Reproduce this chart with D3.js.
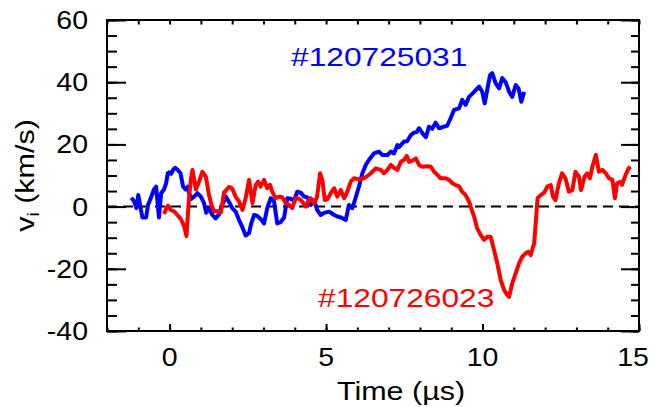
<!DOCTYPE html>
<html>
<head>
<meta charset="utf-8">
<script src="https://cdn.jsdelivr.net/npm/d3@7"></script>
<style>
  html, body { margin: 0; padding: 0; background: #fff; }
  svg { display: block; font-family: "Liberation Sans", Arial, sans-serif; }
</style>
</head>
<body>
<svg id="chart"></svg>
<script>
// shot #120725031 (blue)
const blueT = [-1.22,-1.13,-1.06,-1.0,-0.87,-0.75,-0.69,-0.59,-0.5,-0.43,-0.34,-0.27,-0.18,-0.11,-0.06,-0.02,0.05,0.11,0.18,0.26,0.35,0.43,0.51,0.58,0.62,0.69,0.78,0.89,1.0,1.1,1.17,1.26,1.37,1.47,1.58,1.64,1.8,1.9,2.0,2.11,2.22,2.32,2.43,2.54,2.61,2.7,2.8,2.91,3.02,3.12,3.23,3.34,3.44,3.55,3.66,3.76,3.87,3.98,4.08,4.19,4.3,4.4,4.51,4.62,4.72,4.83,4.94,5.1,5.26,5.36,5.48,5.63,5.73,5.84,5.95,6.05,6.16,6.27,6.37,6.53,6.69,6.8,6.96,7.07,7.17,7.28,7.33,7.49,7.59,7.71,7.81,7.9,7.97,8.08,8.19,8.29,8.39,8.5,8.61,8.77,8.87,8.98,9.09,9.25,9.35,9.46,9.57,9.73,9.89,9.99,10.07,10.15,10.24,10.31,10.42,10.53,10.63,10.74,10.85,10.95,11.06,11.15,11.24,11.33];
const blueV = [2.9,1.6,-0.5,3.7,-3.5,-3.5,0.5,3.0,5.5,6.4,-3.5,4.3,5.5,7.5,10.7,11.0,10.5,11.8,12.5,11.8,10.7,6.5,5.5,6.4,4.5,2.5,3.2,4.3,3.2,1.1,-2.0,-0.5,-2.7,-3.8,-2.5,-0.5,3.2,1.5,-0.5,-1.6,-4.3,-6.5,-9.3,-8.5,-5.4,-2.7,-3.0,-4.0,-5.4,-0.5,2.7,1.5,-5.4,-5.0,-3.5,2.7,2.5,2.0,4.8,4.5,3.2,3.0,0.5,2.0,-1.1,-2.7,-2.0,-1.6,-2.7,-3.2,-3.5,-4.3,0.5,-0.5,3.0,6.4,10.7,13.4,15.0,17.1,17.7,16.6,16.6,17.7,17.1,19.8,19.1,20.9,21.0,23.0,23.8,24.0,25.2,23.6,22.3,25.7,25.0,27.0,25.2,25.7,26.0,28.4,31.1,31.6,34.3,32.7,35.3,36.9,38.6,36.9,33.2,37.5,42.3,42.9,39.6,38.0,41.3,40.0,36.9,35.3,39.1,38.0,33.7,36.9];

// shot #120726023 (red)
const redT = [-0.18,-0.1,-0.05,0.04,0.14,0.25,0.36,0.46,0.54,0.62,0.68,0.73,0.78,0.84,0.94,1.05,1.16,1.26,1.34,1.42,1.53,1.64,1.74,1.9,2.0,2.11,2.22,2.33,2.43,2.54,2.65,2.75,2.83,2.91,3.02,3.12,3.21,3.28,3.39,3.5,3.6,3.71,3.82,3.92,4.03,4.14,4.24,4.35,4.42,4.51,4.62,4.71,4.81,4.88,4.96,5.05,5.15,5.26,5.36,5.47,5.58,5.68,5.79,5.89,6.05,6.21,6.37,6.48,6.59,6.75,6.85,6.96,7.07,7.17,7.28,7.39,7.49,7.58,7.65,7.76,7.87,7.97,8.08,8.24,8.35,8.45,8.56,8.66,8.82,8.93,9.04,9.14,9.25,9.35,9.46,9.57,9.62,9.73,9.83,9.94,10.05,10.15,10.26,10.37,10.47,10.58,10.69,10.79,10.85,10.95,11.06,11.17,11.27,11.38,11.46,11.54,11.65,11.76,11.86,11.97,12.07,12.18,12.25,12.33,12.44,12.54,12.65,12.76,12.87,12.97,13.08,13.15,13.26,13.34,13.43,13.51,13.62,13.72,13.83,13.94,14.04,14.15,14.23,14.3,14.41,14.46,14.57,14.67,14.73];
const redV = [-2.4,-0.5,0.3,-1.1,-1.5,-2.7,-4.0,-6.2,-9.5,2.7,8.6,11.8,9.0,5.5,8.0,11.2,9.6,3.7,0.5,-1.5,-1.5,-1.8,4.5,6.4,5.8,3.2,1.6,-1.1,2.7,8.6,1.1,6.9,8.0,6.4,8.6,5.9,7.0,4.8,2.7,3.2,3.0,1.1,0.5,-0.5,2.7,2.5,1.6,0,1.5,2.7,1.1,3.0,10.7,8.6,2.1,2.5,4.3,5.9,3.2,5.3,2.7,4.8,8.0,9.1,8.8,9.1,10.2,11.2,12.3,11.8,10.7,11.8,13.4,12.5,11.8,14.4,15.0,16.3,14.4,14.8,15.5,13.4,12.8,13.0,12.8,11.2,10.2,9.1,9.1,8.6,7.5,6.9,6.5,4.8,3.7,1.6,0,-3.2,-7.0,-9.1,-10.7,-9.7,-9.7,-14.0,-18.2,-23.6,-26.8,-28.4,-29.0,-24.7,-21.4,-18.2,-16.1,-15.0,-14.5,-15.6,-11.8,2.7,3.7,4.5,6.4,6.9,3.2,2.1,7.5,10.7,9.1,4.8,5.3,11.2,9.6,5.3,9.6,10.7,9.1,12.8,16.6,11.2,11.8,10.7,9.1,8.6,2.7,7.5,8.0,7.0,10.2,12.3,12.8];

const xTicks = [0, 5, 10, 15];
const yTicks = [-40, -20, 0, 20, 40, 60];
const shotLabels = ["#120725031", "#120726023"];

const width = 651, height = 407;
const margin = { top: 20, right: 12, bottom: 76, left: 107 };

const svg = d3.select('#chart').attr('width', width).attr('height', height);
svg.selectAll("*").remove();

const x = d3.scaleLinear().domain([-2, 15]).range([margin.left, width - margin.right]);
const y = d3.scaleLinear().domain([-40, 60]).range([height - margin.bottom, margin.top]);

const pairs = (ts, vs) => d3.range(Math.min(ts.length, vs.length)).map(i => [ts[i], vs[i]]);
const line = d3.line().x(d => x(d[0])).y(d => y(d[1]));

// zero line
svg.append('line')
    .attr('x1', x(-2)).attr('x2', x(15))
    .attr('y1', y(0)).attr('y2', y(0))
    .attr('stroke', '#000').attr('stroke-width', 2)
    .attr('stroke-dasharray', '10,6');

svg.append('path')
    .datum(pairs(blueT, blueV))
    .attr('d', line)
    .attr('fill', 'none').attr('stroke', '#0000ff')
    .attr('stroke-width', 4).attr('stroke-linejoin', 'round');

svg.append('path')
    .datum(pairs(redT, redV))
    .attr('d', line)
    .attr('fill', 'none').attr('stroke', '#ff0000')
    .attr('stroke-width', 4).attr('stroke-linejoin', 'round');

// ticks, all pointing inward
const tickAxis = (axis, transform) => {
    const g = svg.append('g').attr('transform', transform).call(axis);
    g.select('.domain').remove();
    g.selectAll('line').attr('stroke', '#000').attr('stroke-width', 2);
    g.selectAll('text').remove();
};
const minorX = d3.range(-2, 16, 1);
const minorY = d3.range(-40, 61, 5);

tickAxis(d3.axisBottom(x).tickValues(minorX).tickSize(-3.5), `translate(0,${y(-40)})`);
tickAxis(d3.axisBottom(x).tickValues(xTicks).tickSize(-7), `translate(0,${y(-40)})`);
tickAxis(d3.axisTop(x).tickValues(minorX).tickSize(-4.5), `translate(0,${y(60)})`);
tickAxis(d3.axisLeft(y).tickValues(minorY).tickSize(-10), `translate(${x(-2)},0)`);
tickAxis(d3.axisLeft(y).tickValues(yTicks).tickSize(-19), `translate(${x(-2)},0)`);
tickAxis(d3.axisRight(y).tickValues(minorY).tickSize(-8), `translate(${x(15)},0)`);
tickAxis(d3.axisRight(y).tickValues(yTicks).tickSize(-18), `translate(${x(15)},0)`);

// frame
svg.append('rect')
    .attr('x', x(-2)).attr('y', y(60))
    .attr('width', x(15) - x(-2)).attr('height', y(-40) - y(60))
    .attr('fill', 'none').attr('stroke', '#000').attr('stroke-width', 2);

// tick labels (slightly wide type, as in the original)
const sx = 1.14;
svg.append('g').selectAll('text')
    .data(xTicks).enter().append('text')
    .attr('transform', d => `translate(${Math.min(x(d), width - 18)},366) scale(${sx},1)`)
    .attr('text-anchor', 'middle')
    .attr('font-size', '25px')
    .text(d => d);

svg.append('g').selectAll('text')
    .data(yTicks).enter().append('text')
    .attr('transform', d => `translate(88,${y(d)}) scale(${sx},1)`)
    .attr('text-anchor', 'end')
    .attr('dy', '0.36em')
    .attr('font-size', '25px')
    .text(d => d);

// axis titles
svg.append('text')
    .attr('transform', `translate(${(x(-2) + x(15)) / 2 + 28},400) scale(1.22,1)`)
    .attr('text-anchor', 'middle')
    .attr('font-size', '25px')
    .text('Time (µs)');

const yl = svg.append('text')
    .attr('transform', `translate(34,${(y(60) + y(-40)) / 2}) rotate(-90) scale(1.22,1)`)
    .attr('text-anchor', 'middle')
    .attr('font-size', '25px');
yl.append('tspan').text('v');
yl.append('tspan').attr('font-size', '16px').attr('dy', '5').text('i');
yl.append('tspan').attr('dy', '-5').text(' (km/s)');

// shot labels
svg.append('text')
    .attr('transform', 'translate(291,66) scale(1.22,1)')
    .attr('font-size', '26px').attr('fill', '#0000ff')
    .text(shotLabels[0]);

svg.append('text')
    .attr('transform', 'translate(318,307) scale(1.22,1)')
    .attr('font-size', '26px').attr('fill', '#ff0000')
    .text(shotLabels[1]);
</script>
</body>
</html>
